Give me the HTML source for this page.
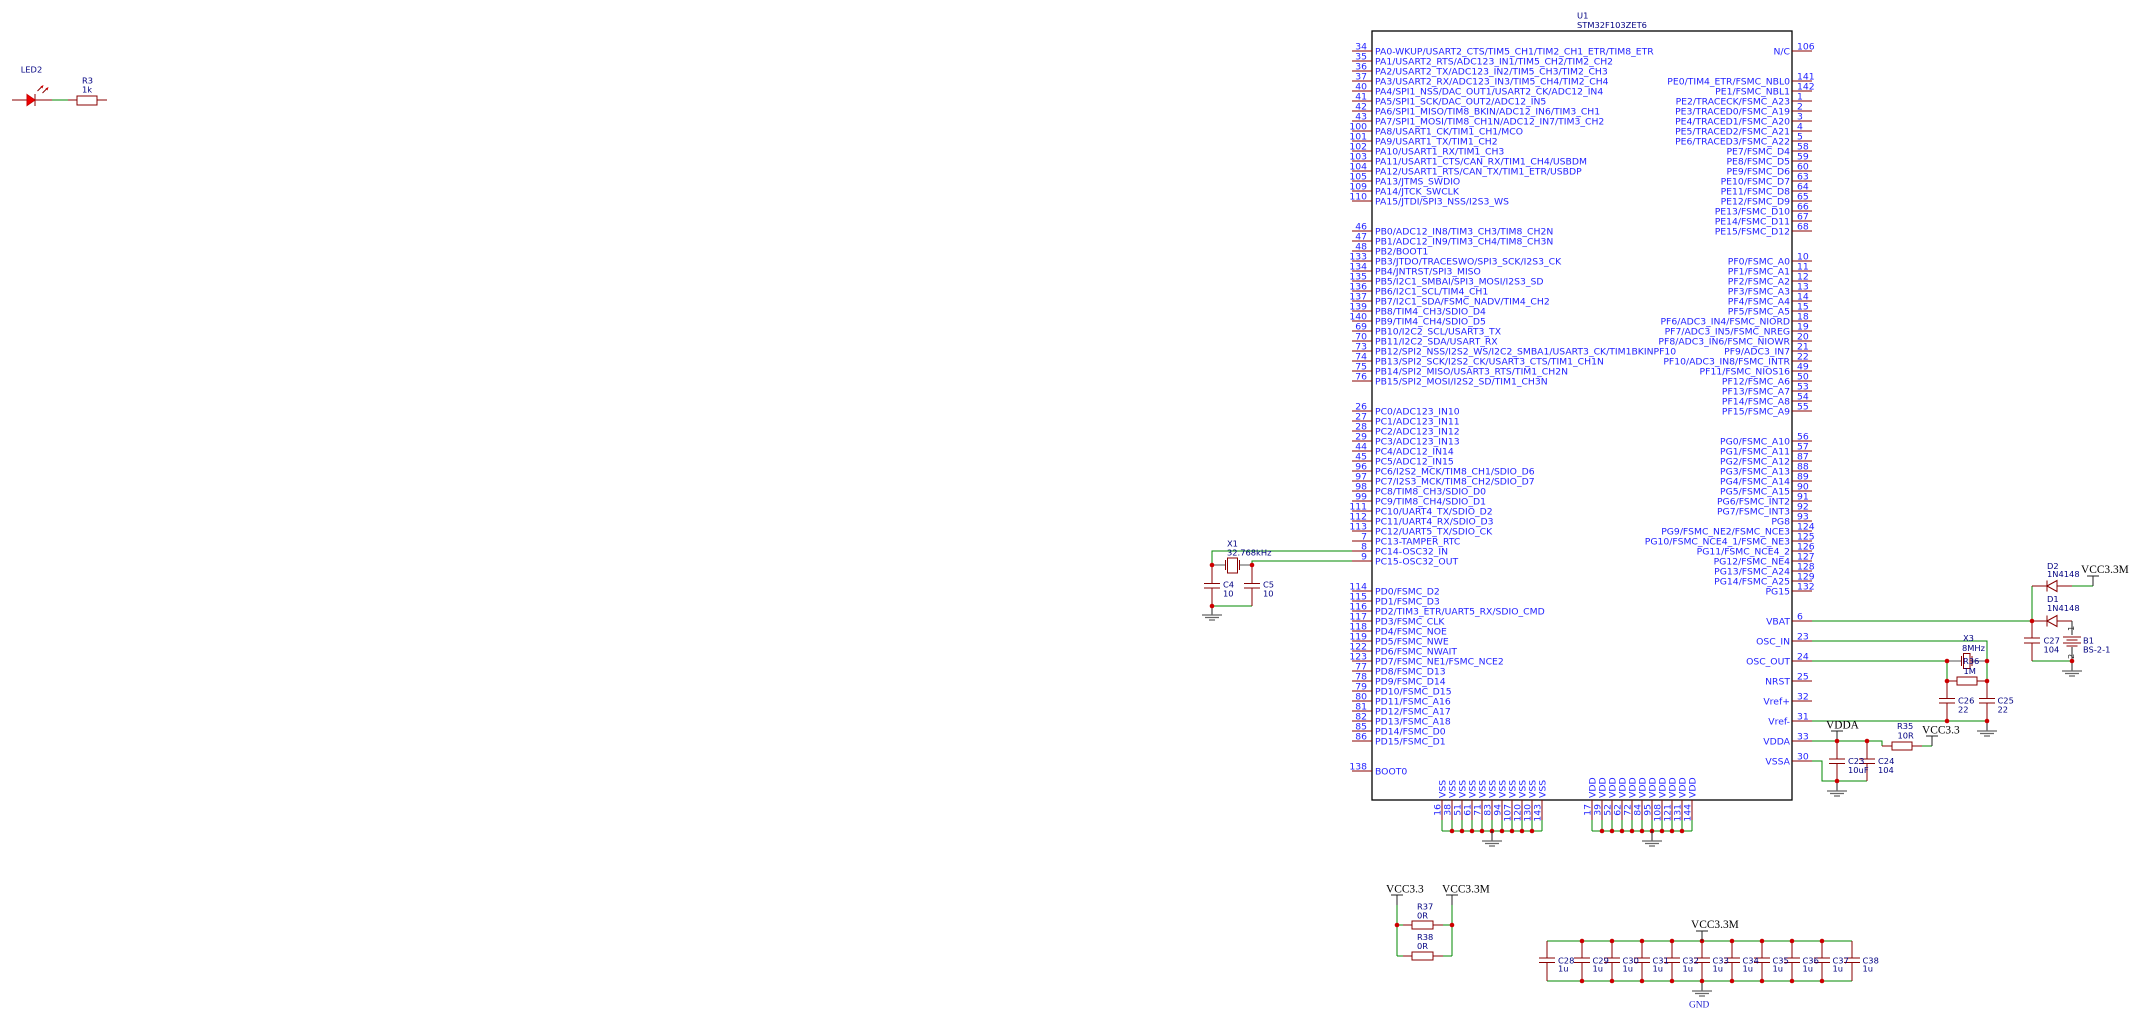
<!DOCTYPE html>
<html><head><meta charset="utf-8"><style>
html,body{margin:0;padding:0;background:#fff;width:2142px;height:1023px;overflow:hidden}
svg{display:block}
text{font-family:"DejaVu Sans","Liberation Sans",sans-serif}
.pn{font-size:9.25px;fill:#1f1fff}
.lb{font-size:8.3px;fill:#000080}
.net{font-family:"Liberation Serif",serif;font-size:11.4px;fill:#000}
.pin{stroke:#880000;stroke-width:1;fill:none}
.w{stroke:#008800;stroke-width:1;fill:none}
.r{stroke:#880000;stroke-width:1;fill:none}
.k{stroke:#222;stroke-width:1;fill:none}
.g{stroke:#666;stroke-width:1.2;fill:none}
.x{stroke:#555;stroke-width:1;fill:none}
.j{fill:#cc0000}
</style></head><body>
<svg width="2142" height="1023" viewBox="0 0 2142 1023" xmlns="http://www.w3.org/2000/svg">
<rect width="2142" height="1023" fill="#fff"/>

<!-- IC body -->
<text class="lb" x="1577" y="18.3">U1</text>
<text class="lb" x="1577" y="28">STM32F103ZET6</text>
<rect x="1372" y="31" width="420" height="769" fill="none" stroke="#000" stroke-width="1.3"/>

<!-- left pins -->
<path class="pin" d="M1352 51h20M1352 61h20M1352 71h20M1352 81h20M1352 91h20M1352 101h20M1352 111h20M1352 121h20M1352 131h20M1352 141h20M1352 151h20M1352 161h20M1352 171h20M1352 181h20M1352 191h20M1352 201h20
M1352 231h20M1352 241h20M1352 251h20M1352 261h20M1352 271h20M1352 281h20M1352 291h20M1352 301h20M1352 311h20M1352 321h20M1352 331h20M1352 341h20M1352 351h20M1352 361h20M1352 371h20M1352 381h20
M1352 411h20M1352 421h20M1352 431h20M1352 441h20M1352 451h20M1352 461h20M1352 471h20M1352 481h20M1352 491h20M1352 501h20M1352 511h20M1352 521h20M1352 531h20M1352 541h20M1352 551h20M1352 561h20
M1352 591h20M1352 601h20M1352 611h20M1352 621h20M1352 631h20M1352 641h20M1352 651h20M1352 661h20M1352 671h20M1352 681h20M1352 691h20M1352 701h20M1352 711h20M1352 721h20M1352 731h20M1352 741h20
M1352 771h20"/>
<!-- right pins -->
<path class="pin" d="M1792 51h20
M1792 81h20M1792 91h20M1792 101h20M1792 111h20M1792 121h20M1792 131h20M1792 141h20M1792 151h20M1792 161h20M1792 171h20M1792 181h20M1792 191h20M1792 201h20M1792 211h20M1792 221h20M1792 231h20
M1792 261h20M1792 271h20M1792 281h20M1792 291h20M1792 301h20M1792 311h20M1792 321h20M1792 331h20M1792 341h20M1792 351h20M1792 361h20M1792 371h20M1792 381h20M1792 391h20M1792 401h20M1792 411h20
M1792 441h20M1792 451h20M1792 461h20M1792 471h20M1792 481h20M1792 491h20M1792 501h20M1792 511h20M1792 521h20M1792 531h20M1792 541h20M1792 551h20M1792 561h20M1792 571h20M1792 581h20M1792 591h20
M1792 621h20M1792 641h20M1792 661h20M1792 681h20M1792 701h20M1792 721h20M1792 741h20M1792 761h20"/>
<!-- bottom pins -->
<path class="pin" d="M1442 800v20M1452 800v20M1462 800v20M1472 800v20M1482 800v20M1492 800v20M1502 800v20M1512 800v20M1522 800v20M1532 800v20M1542 800v20
M1592 800v20M1602 800v20M1612 800v20M1622 800v20M1632 800v20M1642 800v20M1652 800v20M1662 800v20M1672 800v20M1682 800v20M1692 800v20"/>

<!-- left labels -->
<g class="pn" transform="translate(0,3.3)">
<text x="1375" y="51">PA0-WKUP/USART2_CTS/TIM5_CH1/TIM2_CH1_ETR/TIM8_ETR</text>
<text x="1375" y="61">PA1/USART2_RTS/ADC123_IN1/TIM5_CH2/TIM2_CH2</text>
<text x="1375" y="71">PA2/USART2_TX/ADC123_IN2/TIM5_CH3/TIM2_CH3</text>
<text x="1375" y="81">PA3/USART2_RX/ADC123_IN3/TIM5_CH4/TIM2_CH4</text>
<text x="1375" y="91">PA4/SPI1_NSS/DAC_OUT1/USART2_CK/ADC12_IN4</text>
<text x="1375" y="101">PA5/SPI1_SCK/DAC_OUT2/ADC12_IN5</text>
<text x="1375" y="111">PA6/SPI1_MISO/TIM8_BKIN/ADC12_IN6/TIM3_CH1</text>
<text x="1375" y="121">PA7/SPI1_MOSI/TIM8_CH1N/ADC12_IN7/TIM3_CH2</text>
<text x="1375" y="131">PA8/USART1_CK/TIM1_CH1/MCO</text>
<text x="1375" y="141">PA9/USART1_TX/TIM1_CH2</text>
<text x="1375" y="151">PA10/USART1_RX/TIM1_CH3</text>
<text x="1375" y="161">PA11/USART1_CTS/CAN_RX/TIM1_CH4/USBDM</text>
<text x="1375" y="171">PA12/USART1_RTS/CAN_TX/TIM1_ETR/USBDP</text>
<text x="1375" y="181">PA13/JTMS_SWDIO</text>
<text x="1375" y="191">PA14/JTCK_SWCLK</text>
<text x="1375" y="201">PA15/JTDI/SPI3_NSS/I2S3_WS</text>
<text x="1375" y="231">PB0/ADC12_IN8/TIM3_CH3/TIM8_CH2N</text>
<text x="1375" y="241">PB1/ADC12_IN9/TIM3_CH4/TIM8_CH3N</text>
<text x="1375" y="251">PB2/BOOT1</text>
<text x="1375" y="261">PB3/JTDO/TRACESWO/SPI3_SCK/I2S3_CK</text>
<text x="1375" y="271">PB4/JNTRST/SPI3_MISO</text>
<text x="1375" y="281">PB5/I2C1_SMBAI/SPI3_MOSI/I2S3_SD</text>
<text x="1375" y="291">PB6/I2C1_SCL/TIM4_CH1</text>
<text x="1375" y="301">PB7/I2C1_SDA/FSMC_NADV/TIM4_CH2</text>
<text x="1375" y="311">PB8/TIM4_CH3/SDIO_D4</text>
<text x="1375" y="321">PB9/TIM4_CH4/SDIO_D5</text>
<text x="1375" y="331">PB10/I2C2_SCL/USART3_TX</text>
<text x="1375" y="341">PB11/I2C2_SDA/USART_RX</text>
<text x="1375" y="351">PB12/SPI2_NSS/I2S2_WS/I2C2_SMBA1/USART3_CK/TIM1BKINPF10</text>
<text x="1375" y="361">PB13/SPI2_SCK/I2S2_CK/USART3_CTS/TIM1_CH1N</text>
<text x="1375" y="371">PB14/SPI2_MISO/USART3_RTS/TIM1_CH2N</text>
<text x="1375" y="381">PB15/SPI2_MOSI/I2S2_SD/TIM1_CH3N</text>
<text x="1375" y="411">PC0/ADC123_IN10</text>
<text x="1375" y="421">PC1/ADC123_IN11</text>
<text x="1375" y="431">PC2/ADC123_IN12</text>
<text x="1375" y="441">PC3/ADC123_IN13</text>
<text x="1375" y="451">PC4/ADC12_IN14</text>
<text x="1375" y="461">PC5/ADC12_IN15</text>
<text x="1375" y="471">PC6/I2S2_MCK/TIM8_CH1/SDIO_D6</text>
<text x="1375" y="481">PC7/I2S3_MCK/TIM8_CH2/SDIO_D7</text>
<text x="1375" y="491">PC8/TIM8_CH3/SDIO_D0</text>
<text x="1375" y="501">PC9/TIM8_CH4/SDIO_D1</text>
<text x="1375" y="511">PC10/UART4_TX/SDIO_D2</text>
<text x="1375" y="521">PC11/UART4_RX/SDIO_D3</text>
<text x="1375" y="531">PC12/UART5_TX/SDIO_CK</text>
<text x="1375" y="541">PC13-TAMPER_RTC</text>
<text x="1375" y="551">PC14-OSC32_IN</text>
<text x="1375" y="561">PC15-OSC32_OUT</text>
<text x="1375" y="591">PD0/FSMC_D2</text>
<text x="1375" y="601">PD1/FSMC_D3</text>
<text x="1375" y="611">PD2/TIM3_ETR/UART5_RX/SDIO_CMD</text>
<text x="1375" y="621">PD3/FSMC_CLK</text>
<text x="1375" y="631">PD4/FSMC_NOE</text>
<text x="1375" y="641">PD5/FSMC_NWE</text>
<text x="1375" y="651">PD6/FSMC_NWAIT</text>
<text x="1375" y="661">PD7/FSMC_NE1/FSMC_NCE2</text>
<text x="1375" y="671">PD8/FSMC_D13</text>
<text x="1375" y="681">PD9/FSMC_D14</text>
<text x="1375" y="691">PD10/FSMC_D15</text>
<text x="1375" y="701">PD11/FSMC_A16</text>
<text x="1375" y="711">PD12/FSMC_A17</text>
<text x="1375" y="721">PD13/FSMC_A18</text>
<text x="1375" y="731">PD14/FSMC_D0</text>
<text x="1375" y="741">PD15/FSMC_D1</text>
<text x="1375" y="771">BOOT0</text>
</g>

<!-- left numbers -->
<g class="pn" text-anchor="end" transform="translate(0,-1.5)">
<text x="1367" y="51">34</text><text x="1367" y="61">35</text><text x="1367" y="71">36</text><text x="1367" y="81">37</text>
<text x="1367" y="91">40</text><text x="1367" y="101">41</text><text x="1367" y="111">42</text><text x="1367" y="121">43</text>
<text x="1367" y="131">100</text><text x="1367" y="141">101</text><text x="1367" y="151">102</text><text x="1367" y="161">103</text>
<text x="1367" y="171">104</text><text x="1367" y="181">105</text><text x="1367" y="191">109</text><text x="1367" y="201">110</text>
<text x="1367" y="231">46</text><text x="1367" y="241">47</text><text x="1367" y="251">48</text><text x="1367" y="261">133</text>
<text x="1367" y="271">134</text><text x="1367" y="281">135</text><text x="1367" y="291">136</text><text x="1367" y="301">137</text>
<text x="1367" y="311">139</text><text x="1367" y="321">140</text><text x="1367" y="331">69</text><text x="1367" y="341">70</text>
<text x="1367" y="351">73</text><text x="1367" y="361">74</text><text x="1367" y="371">75</text><text x="1367" y="381">76</text>
<text x="1367" y="411">26</text><text x="1367" y="421">27</text><text x="1367" y="431">28</text><text x="1367" y="441">29</text>
<text x="1367" y="451">44</text><text x="1367" y="461">45</text><text x="1367" y="471">96</text><text x="1367" y="481">97</text>
<text x="1367" y="491">98</text><text x="1367" y="501">99</text><text x="1367" y="511">111</text><text x="1367" y="521">112</text>
<text x="1367" y="531">113</text><text x="1367" y="541">7</text><text x="1367" y="551">8</text><text x="1367" y="561">9</text>
<text x="1367" y="591">114</text><text x="1367" y="601">115</text><text x="1367" y="611">116</text><text x="1367" y="621">117</text>
<text x="1367" y="631">118</text><text x="1367" y="641">119</text><text x="1367" y="651">122</text><text x="1367" y="661">123</text>
<text x="1367" y="671">77</text><text x="1367" y="681">78</text><text x="1367" y="691">79</text><text x="1367" y="701">80</text>
<text x="1367" y="711">81</text><text x="1367" y="721">82</text><text x="1367" y="731">85</text><text x="1367" y="741">86</text>
<text x="1367" y="771">138</text>
</g>

<!-- right labels -->
<g class="pn" text-anchor="end" transform="translate(0,3.3)">
<text x="1790" y="51">N/C</text>
<text x="1790" y="81">PE0/TIM4_ETR/FSMC_NBL0</text>
<text x="1790" y="91">PE1/FSMC_NBL1</text>
<text x="1790" y="101">PE2/TRACECK/FSMC_A23</text>
<text x="1790" y="111">PE3/TRACED0/FSMC_A19</text>
<text x="1790" y="121">PE4/TRACED1/FSMC_A20</text>
<text x="1790" y="131">PE5/TRACED2/FSMC_A21</text>
<text x="1790" y="141">PE6/TRACED3/FSMC_A22</text>
<text x="1790" y="151">PE7/FSMC_D4</text>
<text x="1790" y="161">PE8/FSMC_D5</text>
<text x="1790" y="171">PE9/FSMC_D6</text>
<text x="1790" y="181">PE10/FSMC_D7</text>
<text x="1790" y="191">PE11/FSMC_D8</text>
<text x="1790" y="201">PE12/FSMC_D9</text>
<text x="1790" y="211">PE13/FSMC_D10</text>
<text x="1790" y="221">PE14/FSMC_D11</text>
<text x="1790" y="231">PE15/FSMC_D12</text>
<text x="1790" y="261">PF0/FSMC_A0</text>
<text x="1790" y="271">PF1/FSMC_A1</text>
<text x="1790" y="281">PF2/FSMC_A2</text>
<text x="1790" y="291">PF3/FSMC_A3</text>
<text x="1790" y="301">PF4/FSMC_A4</text>
<text x="1790" y="311">PF5/FSMC_A5</text>
<text x="1790" y="321">PF6/ADC3_IN4/FSMC_NIORD</text>
<text x="1790" y="331">PF7/ADC3_IN5/FSMC_NREG</text>
<text x="1790" y="341">PF8/ADC3_IN6/FSMC_NIOWR</text>
<text x="1790" y="351">PF9/ADC3_IN7</text>
<text x="1790" y="361">PF10/ADC3_IN8/FSMC_INTR</text>
<text x="1790" y="371">PF11/FSMC_NIOS16</text>
<text x="1790" y="381">PF12/FSMC_A6</text>
<text x="1790" y="391">PF13/FSMC_A7</text>
<text x="1790" y="401">PF14/FSMC_A8</text>
<text x="1790" y="411">PF15/FSMC_A9</text>
<text x="1790" y="441">PG0/FSMC_A10</text>
<text x="1790" y="451">PG1/FSMC_A11</text>
<text x="1790" y="461">PG2/FSMC_A12</text>
<text x="1790" y="471">PG3/FSMC_A13</text>
<text x="1790" y="481">PG4/FSMC_A14</text>
<text x="1790" y="491">PG5/FSMC_A15</text>
<text x="1790" y="501">PG6/FSMC_INT2</text>
<text x="1790" y="511">PG7/FSMC_INT3</text>
<text x="1790" y="521">PG8</text>
<text x="1790" y="531">PG9/FSMC_NE2/FSMC_NCE3</text>
<text x="1790" y="541">PG10/FSMC_NCE4_1/FSMC_NE3</text>
<text x="1790" y="551">PG11/FSMC_NCE4_2</text>
<text x="1790" y="561">PG12/FSMC_NE4</text>
<text x="1790" y="571">PG13/FSMC_A24</text>
<text x="1790" y="581">PG14/FSMC_A25</text>
<text x="1790" y="591">PG15</text>
<text x="1790" y="621">VBAT</text>
<text x="1790" y="641">OSC_IN</text>
<text x="1790" y="661">OSC_OUT</text>
<text x="1790" y="681">NRST</text>
<text x="1790" y="701">Vref+</text>
<text x="1790" y="721">Vref-</text>
<text x="1790" y="741">VDDA</text>
<text x="1790" y="761">VSSA</text>
</g>

<!-- right numbers -->
<g class="pn" transform="translate(0,-1.5)">
<text x="1797" y="51">106</text>
<text x="1797" y="81">141</text><text x="1797" y="91">142</text><text x="1797" y="101">1</text><text x="1797" y="111">2</text>
<text x="1797" y="121">3</text><text x="1797" y="131">4</text><text x="1797" y="141">5</text><text x="1797" y="151">58</text>
<text x="1797" y="161">59</text><text x="1797" y="171">60</text><text x="1797" y="181">63</text><text x="1797" y="191">64</text>
<text x="1797" y="201">65</text><text x="1797" y="211">66</text><text x="1797" y="221">67</text><text x="1797" y="231">68</text>
<text x="1797" y="261">10</text><text x="1797" y="271">11</text><text x="1797" y="281">12</text><text x="1797" y="291">13</text>
<text x="1797" y="301">14</text><text x="1797" y="311">15</text><text x="1797" y="321">18</text><text x="1797" y="331">19</text>
<text x="1797" y="341">20</text><text x="1797" y="351">21</text><text x="1797" y="361">22</text><text x="1797" y="371">49</text>
<text x="1797" y="381">50</text><text x="1797" y="391">53</text><text x="1797" y="401">54</text><text x="1797" y="411">55</text>
<text x="1797" y="441">56</text><text x="1797" y="451">57</text><text x="1797" y="461">87</text><text x="1797" y="471">88</text>
<text x="1797" y="481">89</text><text x="1797" y="491">90</text><text x="1797" y="501">91</text><text x="1797" y="511">92</text>
<text x="1797" y="521">93</text><text x="1797" y="531">124</text><text x="1797" y="541">125</text><text x="1797" y="551">126</text>
<text x="1797" y="561">127</text><text x="1797" y="571">128</text><text x="1797" y="581">129</text><text x="1797" y="591">132</text>
<text x="1797" y="621">6</text><text x="1797" y="641">23</text><text x="1797" y="661">24</text><text x="1797" y="681">25</text>
<text x="1797" y="701">32</text><text x="1797" y="721">31</text><text x="1797" y="741">33</text><text x="1797" y="761">30</text>
</g>

<!-- bottom labels -->
<g class="pn">
<text transform="translate(1445.3,798) rotate(-90)">VSS</text>
<text transform="translate(1455.3,798) rotate(-90)">VSS</text>
<text transform="translate(1465.3,798) rotate(-90)">VSS</text>
<text transform="translate(1475.3,798) rotate(-90)">VSS</text>
<text transform="translate(1485.3,798) rotate(-90)">VSS</text>
<text transform="translate(1495.3,798) rotate(-90)">VSS</text>
<text transform="translate(1505.3,798) rotate(-90)">VSS</text>
<text transform="translate(1515.3,798) rotate(-90)">VSS</text>
<text transform="translate(1525.3,798) rotate(-90)">VSS</text>
<text transform="translate(1535.3,798) rotate(-90)">VSS</text>
<text transform="translate(1545.3,798) rotate(-90)">VSS</text>
<text transform="translate(1595.3,798) rotate(-90)">VDD</text>
<text transform="translate(1605.3,798) rotate(-90)">VDD</text>
<text transform="translate(1615.3,798) rotate(-90)">VDD</text>
<text transform="translate(1625.3,798) rotate(-90)">VDD</text>
<text transform="translate(1635.3,798) rotate(-90)">VDD</text>
<text transform="translate(1645.3,798) rotate(-90)">VDD</text>
<text transform="translate(1655.3,798) rotate(-90)">VDD</text>
<text transform="translate(1665.3,798) rotate(-90)">VDD</text>
<text transform="translate(1675.3,798) rotate(-90)">VDD</text>
<text transform="translate(1685.3,798) rotate(-90)">VDD</text>
<text transform="translate(1695.3,798) rotate(-90)">VDD</text>
</g>
<g class="pn" text-anchor="end">
<text transform="translate(1440.5,804) rotate(-90)">16</text>
<text transform="translate(1450.5,804) rotate(-90)">38</text>
<text transform="translate(1460.5,804) rotate(-90)">51</text>
<text transform="translate(1470.5,804) rotate(-90)">61</text>
<text transform="translate(1480.5,804) rotate(-90)">71</text>
<text transform="translate(1490.5,804) rotate(-90)">83</text>
<text transform="translate(1500.5,804) rotate(-90)">94</text>
<text transform="translate(1510.5,804) rotate(-90)">107</text>
<text transform="translate(1520.5,804) rotate(-90)">120</text>
<text transform="translate(1530.5,804) rotate(-90)">130</text>
<text transform="translate(1540.5,804) rotate(-90)">143</text>
<text transform="translate(1590.5,804) rotate(-90)">17</text>
<text transform="translate(1600.5,804) rotate(-90)">39</text>
<text transform="translate(1610.5,804) rotate(-90)">52</text>
<text transform="translate(1620.5,804) rotate(-90)">62</text>
<text transform="translate(1630.5,804) rotate(-90)">72</text>
<text transform="translate(1640.5,804) rotate(-90)">84</text>
<text transform="translate(1650.5,804) rotate(-90)">95</text>
<text transform="translate(1660.5,804) rotate(-90)">108</text>
<text transform="translate(1670.5,804) rotate(-90)">121</text>
<text transform="translate(1680.5,804) rotate(-90)">131</text>
<text transform="translate(1690.5,804) rotate(-90)">144</text>
</g>

<!-- bottom buses -->
<path class="w" d="M1442 820v11M1452 820v11M1462 820v11M1472 820v11M1482 820v11M1492 820v11M1502 820v11M1512 820v11M1522 820v11M1532 820v11M1542 820v11M1442 831H1542
M1592 820v11M1602 820v11M1612 820v11M1622 820v11M1632 820v11M1642 820v11M1652 820v11M1662 820v11M1672 820v11M1682 820v11M1692 820v11M1592 831H1692"/>
<g class="j">
<circle cx="1452" cy="831" r="2.3"/><circle cx="1462" cy="831" r="2.3"/><circle cx="1472" cy="831" r="2.3"/><circle cx="1482" cy="831" r="2.3"/><circle cx="1492" cy="831" r="2.3"/><circle cx="1502" cy="831" r="2.3"/><circle cx="1512" cy="831" r="2.3"/><circle cx="1522" cy="831" r="2.3"/><circle cx="1532" cy="831" r="2.3"/>
<circle cx="1602" cy="831" r="2.3"/><circle cx="1612" cy="831" r="2.3"/><circle cx="1622" cy="831" r="2.3"/><circle cx="1632" cy="831" r="2.3"/><circle cx="1642" cy="831" r="2.3"/><circle cx="1652" cy="831" r="2.3"/><circle cx="1662" cy="831" r="2.3"/><circle cx="1672" cy="831" r="2.3"/><circle cx="1682" cy="831" r="2.3"/>
</g>

<!-- grounds: vertical leads -->
<path class="k" d="M1492 831V841M1652 831V841M1212 606V615M1987 721V731M1837 781V791M2072 661V671M1702 981V991"/>
<!-- ground symbols -->
<path class="g" d="M1482 841h20M1485 843.5h14M1489 846h6
M1642 841h20M1645 843.5h14M1649 846h6
M1202 615h20M1205 617.5h14M1209 620h6
M1977 731h20M1980 733.5h14M1984 736h6
M1827 791h20M1830 793.5h14M1834 796h6
M2062 671h20M2065 673.5h14M2069 676h6
M1692 991h20M1695 993.5h14M1699 996h6"/>

<!-- ===== X1 / C4 / C5 ===== -->
<path class="w" d="M1352 551H1212V565M1352 561H1252V565M1212 606H1252"/>
<path class="r" d="M1212 565V583.5M1204 583.5h16M1204 588h16M1212 588V606
M1252 565V583.5M1244 583.5h16M1244 588h16M1252 588V606"/>
<path class="x" d="M1212 565H1225.5M1239.5 565H1252"/>
<path class="r" d="M1225.5 560V570M1239.5 560V570"/>
<rect x="1227.5" y="558" width="10" height="15" fill="none" stroke="#880000" stroke-width="1"/>
<g class="j"><circle cx="1212" cy="565" r="2.3"/><circle cx="1252" cy="565" r="2.3"/><circle cx="1212" cy="606" r="2.3"/></g>
<text class="lb" x="1227" y="546.7">X1</text>
<text class="lb" x="1227" y="555.7">32.768kHz</text>
<text class="lb" x="1223" y="587.3">C4</text>
<text class="lb" x="1223" y="596.7">10</text>
<text class="lb" x="1263" y="587.3">C5</text>
<text class="lb" x="1263" y="596.7">10</text>

<!-- ===== Right side circuits ===== -->
<path class="w" d="M1812 621H2032M2032 621V586M2072 586H2093M2032 661H2072
M1812 641H1987V681M1812 661H1947V681M1812 721H1987
M1812 741H1882V746M1922 746H1932M1812 761H1822V781H1867"/>
<!-- D1 -->
<path class="r" d="M2032 621H2047M2057 621H2072M2047 615.5V626.5"/>
<path d="M2047 621L2057 615.5V626.5Z" fill="none" stroke="#880000" stroke-width="1"/>
<!-- D2 -->
<path class="r" d="M2032 586H2047M2057 586H2072M2047 580.5V591.5"/>
<path d="M2047 586L2057 580.5V591.5Z" fill="none" stroke="#880000" stroke-width="1"/>
<!-- VCC3.3M top right -->
<path class="k" d="M2093 586V576M2087 576h12"/>
<text class="net" x="2081" y="573">VCC3.3M</text>
<!-- B1 -->
<path class="k" d="M2072 621V635M2072 647V661"/>
<path class="r" d="M2063 637h18M2066.5 640h11M2063 643h18M2066.5 646h11"/>
<text transform="translate(2074,631) rotate(-90)" style="font-size:8.3px;fill:#333">1</text>
<text transform="translate(2074,659) rotate(-90)" style="font-size:8.3px;fill:#333">2</text>
<!-- C27 -->
<path class="r" d="M2032 621V638M2024 638h16M2024 643h16M2032 643V661"/>
<!-- X3 -->
<path class="x" d="M1947 661H1961.5M1972 661H1987"/>
<path class="r" d="M1961.5 656V666M1972 656V666"/>
<rect x="1963.5" y="653.5" width="6.5" height="15" fill="none" stroke="#880000" stroke-width="1"/>
<!-- R36 -->
<path class="r" d="M1947 681H1957M1977 681H1987"/>
<rect x="1957" y="677" width="20" height="8" fill="none" stroke="#880000" stroke-width="1"/>
<!-- C26 C25 -->
<path class="r" d="M1947 681V698.5M1939 698.5h16M1939 703h16M1947 703V721
M1987 681V698.5M1979 698.5h16M1979 703h16M1987 703V721"/>
<!-- VDDA label -->
<path class="k" d="M1837 741V731M1831 731h12"/>
<text class="net" x="1826" y="728.5">VDDA</text>
<!-- C23 C24 -->
<path class="r" d="M1837 741V759M1829 759h16M1829 763.5h16M1837 763.5V781
M1867 741V759M1859 759h16M1859 763.5h16M1867 763.5V781"/>
<!-- R35 -->
<path class="r" d="M1882 746H1892M1912 746H1922"/>
<rect x="1892" y="742" width="20" height="8" fill="none" stroke="#880000" stroke-width="1"/>
<path class="k" d="M1932 746V736M1926 736h12"/>
<text class="net" x="1922" y="733.5">VCC3.3</text>
<g class="j">
<circle cx="2032" cy="621" r="2.3"/><circle cx="2072" cy="661" r="2.3"/>
<circle cx="1947" cy="661" r="2.3"/><circle cx="1987" cy="661" r="2.3"/>
<circle cx="1947" cy="681" r="2.3"/><circle cx="1987" cy="681" r="2.3"/>
<circle cx="1947" cy="721" r="2.3"/><circle cx="1987" cy="721" r="2.3"/>
<circle cx="1837" cy="741" r="2.3"/><circle cx="1867" cy="741" r="2.3"/>
<circle cx="1837" cy="781" r="2.3"/>
</g>
<text class="lb" x="2047" y="569">D2</text>
<text class="lb" x="2047" y="577">1N4148</text>
<text class="lb" x="2047" y="602">D1</text>
<text class="lb" x="2047" y="611">1N4148</text>
<text class="lb" x="2043.5" y="643.5">C27</text>
<text class="lb" x="2043.5" y="652.5">104</text>
<text class="lb" x="2083" y="643.5">B1</text>
<text class="lb" x="2083" y="652.5">BS-2-1</text>
<text class="lb" x="1963" y="641">X3</text>
<text class="lb" x="1962" y="651">8MHz</text>
<text class="lb" x="1963" y="664">R36</text>
<text class="lb" x="1963.5" y="674">1M</text>
<text class="lb" x="1958" y="703.3">C26</text>
<text class="lb" x="1958" y="712.7">22</text>
<text class="lb" x="1997.5" y="703.3">C25</text>
<text class="lb" x="1997.5" y="712.7">22</text>
<text class="lb" x="1897" y="729">R35</text>
<text class="lb" x="1897.5" y="738.3">10R</text>
<text class="lb" x="1848" y="764">C23</text>
<text class="lb" x="1848" y="773">10uF</text>
<text class="lb" x="1878" y="764">C24</text>
<text class="lb" x="1878" y="773">104</text>

<!-- ===== LED2 / R3 ===== -->
<path class="r" d="M12 100H27M35 100H52M68 100H77M97 100H107M35 94V106"/>
<path d="M27 94.5L35 100L27 105.5Z" fill="#ee0000" stroke="#cc0000" stroke-width="1"/>
<path class="w" d="M52 100H68"/>
<rect x="77" y="96" width="20" height="9" fill="none" stroke="#880000" stroke-width="1"/>
<path class="r" d="M37.5 91L42 86.5M42.5 93L47 88.5"/>
<path d="M43.5 85L40.5 86.5L42.5 88.5Z M48.5 87L45.5 88.5L47.5 90.5Z" fill="#cc0000"/>
<text class="lb" x="20.7" y="72.3">LED2</text>
<text class="lb" x="82" y="83.3">R3</text>
<text class="lb" x="82" y="92.3">1k</text>

<!-- ===== R37 / R38 ===== -->
<path class="k" d="M1397 895V905M1391 895h12M1452 895V905M1446 895h12"/>
<text class="net" x="1386" y="892.7">VCC3.3</text>
<text class="net" x="1442" y="892.7">VCC3.3M</text>
<path class="w" d="M1397 905V956M1452 905V956M1397 925H1403M1443 925H1452M1397 956H1403M1443 956H1452"/>
<path class="r" d="M1403 925H1412M1433 925H1443M1403 956H1412M1433 956H1443"/>
<rect x="1412" y="921" width="21" height="8" fill="none" stroke="#880000" stroke-width="1"/>
<rect x="1412" y="952" width="21" height="8" fill="none" stroke="#880000" stroke-width="1"/>
<g class="j"><circle cx="1397" cy="925" r="2.3"/><circle cx="1452" cy="925" r="2.3"/></g>
<text class="lb" x="1417" y="909.3">R37</text>
<text class="lb" x="1417" y="918.3">0R</text>
<text class="lb" x="1417" y="940">R38</text>
<text class="lb" x="1417" y="949">0R</text>

<!-- ===== Cap bank ===== -->
<path class="w" d="M1547 941H1852M1547 981H1852"/>
<path class="r" d="
M1547 941V958M1539 958h16M1539 962.5h16M1547 962.5V981
M1582 941V958M1574 958h16M1574 962.5h16M1582 962.5V981
M1612 941V958M1604 958h16M1604 962.5h16M1612 962.5V981
M1642 941V958M1634 958h16M1634 962.5h16M1642 962.5V981
M1672 941V958M1664 958h16M1664 962.5h16M1672 962.5V981
M1702 941V958M1694 958h16M1694 962.5h16M1702 962.5V981
M1732 941V958M1724 958h16M1724 962.5h16M1732 962.5V981
M1762 941V958M1754 958h16M1754 962.5h16M1762 962.5V981
M1792 941V958M1784 958h16M1784 962.5h16M1792 962.5V981
M1822 941V958M1814 958h16M1814 962.5h16M1822 962.5V981
M1852 941V958M1844 958h16M1844 962.5h16M1852 962.5V981"/>
<g class="j">
<circle cx="1582" cy="941" r="2.3"/><circle cx="1612" cy="941" r="2.3"/><circle cx="1642" cy="941" r="2.3"/><circle cx="1672" cy="941" r="2.3"/><circle cx="1702" cy="941" r="2.3"/><circle cx="1732" cy="941" r="2.3"/><circle cx="1762" cy="941" r="2.3"/><circle cx="1792" cy="941" r="2.3"/><circle cx="1822" cy="941" r="2.3"/>
<circle cx="1582" cy="981" r="2.3"/><circle cx="1612" cy="981" r="2.3"/><circle cx="1642" cy="981" r="2.3"/><circle cx="1672" cy="981" r="2.3"/><circle cx="1702" cy="981" r="2.3"/><circle cx="1732" cy="981" r="2.3"/><circle cx="1762" cy="981" r="2.3"/><circle cx="1792" cy="981" r="2.3"/><circle cx="1822" cy="981" r="2.3"/>
</g>
<path class="k" d="M1702 931V941M1696 931h12"/>
<text class="net" x="1691" y="928">VCC3.3M</text>
<text x="1689" y="1007.7" style="font-family:'Liberation Serif',serif;font-size:9.4px;fill:#1a1acc">GND</text>
<g class="lb">
<text x="1558" y="963.3">C28</text><text x="1558" y="971.7">1u</text>
<text x="1592.5" y="963.3">C29</text><text x="1592.5" y="971.7">1u</text>
<text x="1622.5" y="963.3">C30</text><text x="1622.5" y="971.7">1u</text>
<text x="1652.5" y="963.3">C31</text><text x="1652.5" y="971.7">1u</text>
<text x="1682.5" y="963.3">C32</text><text x="1682.5" y="971.7">1u</text>
<text x="1712.5" y="963.3">C33</text><text x="1712.5" y="971.7">1u</text>
<text x="1742.5" y="963.3">C34</text><text x="1742.5" y="971.7">1u</text>
<text x="1772.5" y="963.3">C35</text><text x="1772.5" y="971.7">1u</text>
<text x="1802.5" y="963.3">C36</text><text x="1802.5" y="971.7">1u</text>
<text x="1832.5" y="963.3">C37</text><text x="1832.5" y="971.7">1u</text>
<text x="1862.5" y="963.3">C38</text><text x="1862.5" y="971.7">1u</text>
</g>
</svg>
</body></html>
